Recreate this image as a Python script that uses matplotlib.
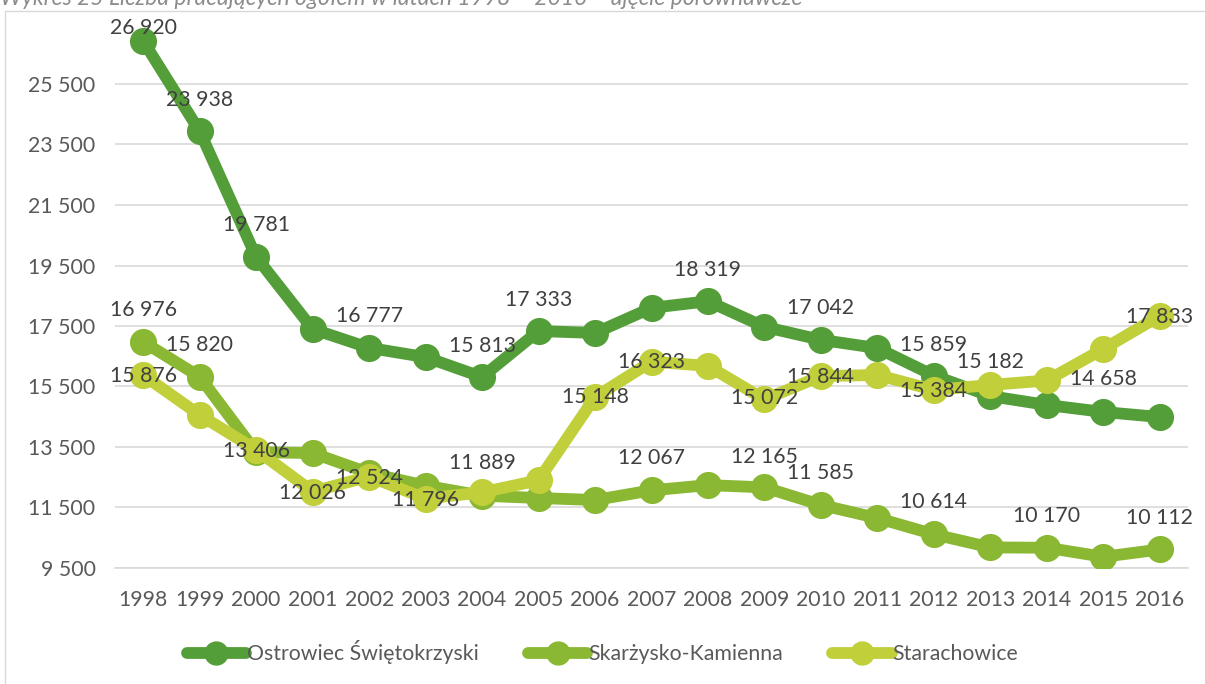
import matplotlib
matplotlib.use("Agg")
import matplotlib.pyplot as plt
from matplotlib.patches import Rectangle

plt.rcParams['font.family'] = ['Lato', 'DejaVu Sans']

years = list(range(1998, 2017))
series_names = ["Ostrowiec Świętokrzyski", "Skarżysko-Kamienna", "Starachowice"]
ostrowiec = [26920, 23938, 19781, 17400, 16777, 16470, 15813, 17333, 17270, 18100,
             18319, 17470, 17042, 16770, 15859, 15182, 14890, 14658, 14490]
skarzysko = [16976, 15820, 13330, 13300, 12640, 12220, 11889, 11814, 11748, 12067,
             12240, 12165, 11585, 11150, 10614, 10180, 10170, 9870, 10112]
starachowice = [15876, 14560, 13406, 12026, 12524, 11796, 12000, 12400, 15148, 16323,
                16180, 15072, 15844, 15880, 15384, 15550, 15700, 16740, 17833]
yticks = [9500, 11500, 13500, 15500, 17500, 19500, 21500, 23500, 25500]
title = "Wykres 25 Liczba pracujących ogółem w latach 1998 – 2016 – ujęcie porównawcze"

colors = ["#549E39", "#8AB833", "#C0CF3A"]
data = [ostrowiec, skarzysko, starachowice]

# which points carry a data label: (series index, year index, dy in pixels)
labels = [
    (0, 0, 13), (0, 1, 31), (0, 2, 32), (0, 4, 32), (0, 6, 31), (0, 7, 31),
    (0, 10, 31), (0, 12, 32), (0, 14, 31), (0, 15, 34), (0, 17, 33),
    (1, 0, 32), (1, 1, 32), (1, 6, 33), (1, 9, 32), (1, 11, 30), (1, 12, 32),
    (1, 14, 32), (1, 16, 32), (1, 18, 31),
    (2, 0, -1), (2, 2, -1), (2, 3, -1), (2, 4, -1), (2, 5, -1), (2, 8, 0),
    (2, 9, 0), (2, 11, 1), (2, 12, -1), (2, 14, -1), (2, 18, -1),
]

W, H = 1205, 684
FS = 15.3
fig = plt.figure(figsize=(W / 100, H / 100), dpi=100)
fig.patch.set_facecolor("white")

# chart border
fig.patches.append(Rectangle((5 / W, -0.05), 1.1, (1 - 11 / H) + 0.05,
                             transform=fig.transFigure, fill=False,
                             edgecolor="#D9D9D9", linewidth=1.0))
fig.text(0.0, 1 - 5 / H, title, ha="left", va="baseline", fontsize=16.5,
         style="italic", color="#8C8C8C")

ax = fig.add_axes([115 / W, 1 - 568 / H, (1188 - 115) / W, (568 - 23.5) / H])
x = list(range(len(years)))
for d, c, n in zip(data, colors, series_names):
    ax.plot(x, d, color=c, linewidth=8.5, marker="o", markersize=18.5,
            solid_capstyle="round", solid_joinstyle="round", label=n, zorder=3)

for s, i, dy in labels:
    v = data[s][i]
    txt = f"{v:,}".replace(",", " ")
    ax.annotate(txt, (x[i], v), xytext=(0, dy), textcoords="offset pixels",
                ha="center", va="center", fontsize=FS, color="#404040", zorder=5)

ax.set_xlim(-0.5, len(years) - 0.5)
ax.set_ylim(9500, 27500)
ax.set_yticks(yticks)
ax.set_yticklabels([f"{t:,}".replace(",", " ") for t in yticks])
ax.set_xticks(x)
ax.set_xticklabels([str(y) for y in years])
ax.tick_params(axis="both", length=0, labelsize=FS, labelcolor="#595959")
ax.tick_params(axis="y", pad=14)
ax.tick_params(axis="x", pad=16)
ax.grid(axis="y", color="#D9D9D9", linewidth=1.2)
ax.set_axisbelow(True)
for sp in ["top", "right", "left"]:
    ax.spines[sp].set_visible(False)
ax.spines["bottom"].set_color("#D9D9D9")
ax.spines["bottom"].set_linewidth(1.2)

leg = fig.legend(loc="center", bbox_to_anchor=(0.5, 1 - 652 / H), ncol=3,
                 frameon=False, fontsize=FS, handlelength=2.8, handletextpad=0.05,
                 columnspacing=2.3, labelcolor="#595959")
for h in leg.legend_handles:
    h.set_markersize(16.5)

fig.savefig("out.png", dpi=100, facecolor="white")
